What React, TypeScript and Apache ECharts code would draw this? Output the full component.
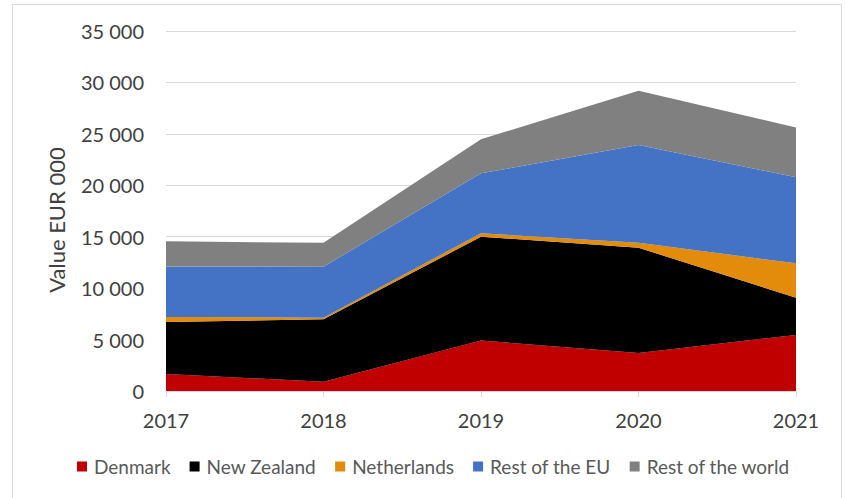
import React, { useEffect, useRef } from "react";
import * as echarts from "echarts";

const years = ["2017", "2018", "2019", "2020", "2021"];
const denmark = [1650, 900, 4900, 3700, 5450];
const newZealand = [5050, 6070, 10100, 10230, 3620];
const netherlands = [500, 160, 330, 490, 3340];
const restEU = [4900, 4960, 5830, 9500, 8360];
const restWorld = [2450, 2320, 3310, 5280, 4860];

const seriesDefs = [
  { name: "Denmark", data: denmark, color: "#C00000" },
  { name: "New Zealand", data: newZealand, color: "#000000" },
  { name: "Netherlands", data: netherlands, color: "#E38B0A" },
  { name: "Rest of the EU", data: restEU, color: "#4472C4" },
  { name: "Rest of the world", data: restWorld, color: "#808080" },
];

const FONT = "Lato";

function fmt(v: number): string {
  if (v === 0) return "0";
  const s = String(v);
  return s.replace(/\B(?=(\d{3})+(?!\d))/g, " ");
}

export default function App() {
  const ref = useRef<HTMLDivElement>(null);
  useEffect(() => {
    document.body.style.margin = "0";
    if (!ref.current) return;
    const chart = echarts.init(ref.current, undefined, { renderer: "svg" });
    chart.setOption({
      animation: false,
      backgroundColor: "#ffffff",
      graphic: [
        {
          type: "rect",
          shape: { x: 12.5, y: 4.5, width: 829, height: 510 },
          style: { fill: "none", stroke: "#d9d9d9", lineWidth: 1 },
          silent: true,
        },
      ],
      grid: { left: 166, right: 49, top: 31, bottom: 107 },
      legend: {
        bottom: 17,
        left: 72,
        icon: "rect",
        itemWidth: 10,
        itemHeight: 10,
        itemGap: 19,
        textStyle: {
          fontFamily: FONT,
          fontSize: 19,
          color: "#595959",
          padding: [0, 0, 0, 2],
        },
        data: seriesDefs.map((s) => s.name),
      },
      xAxis: {
        type: "category",
        data: years,
        boundaryGap: false,
        axisLine: { show: true, lineStyle: { color: "#d9d9d9", width: 1 } },
        axisTick: { show: true, length: 6, lineStyle: { color: "#d9d9d9" } },
        axisLabel: {
          fontFamily: FONT,
          fontSize: 20,
          color: "#404040",
          margin: 19,
        },
      },
      yAxis: {
        type: "value",
        min: 0,
        max: 35000,
        interval: 5000,
        name: "Value EUR 000",
        nameLocation: "middle",
        nameGap: 99,
        nameTextStyle: {
          fontFamily: FONT,
          fontSize: 22,
          color: "#404040",
          padding: [0, 18, 0, 0],
        },
        axisLine: { show: false },
        axisTick: { show: false },
        splitLine: { lineStyle: { color: "#d9d9d9", width: 1 } },
        axisLabel: {
          fontFamily: FONT,
          fontSize: 20,
          color: "#404040",
          margin: 22,
          formatter: (v: number) => fmt(v),
        },
      },
      series: seriesDefs.map((s) => ({
        name: s.name,
        type: "line",
        stack: "total",
        data: s.data,
        symbol: "none",
        showSymbol: false,
        color: s.color,
        itemStyle: { color: s.color },
        lineStyle: { width: 0, color: s.color },
        areaStyle: { color: s.color, opacity: 1 },
      })),
    });
    return () => chart.dispose();
  }, []);
  return <div ref={ref} style={{ width: 845, height: 498 }} />;
}
